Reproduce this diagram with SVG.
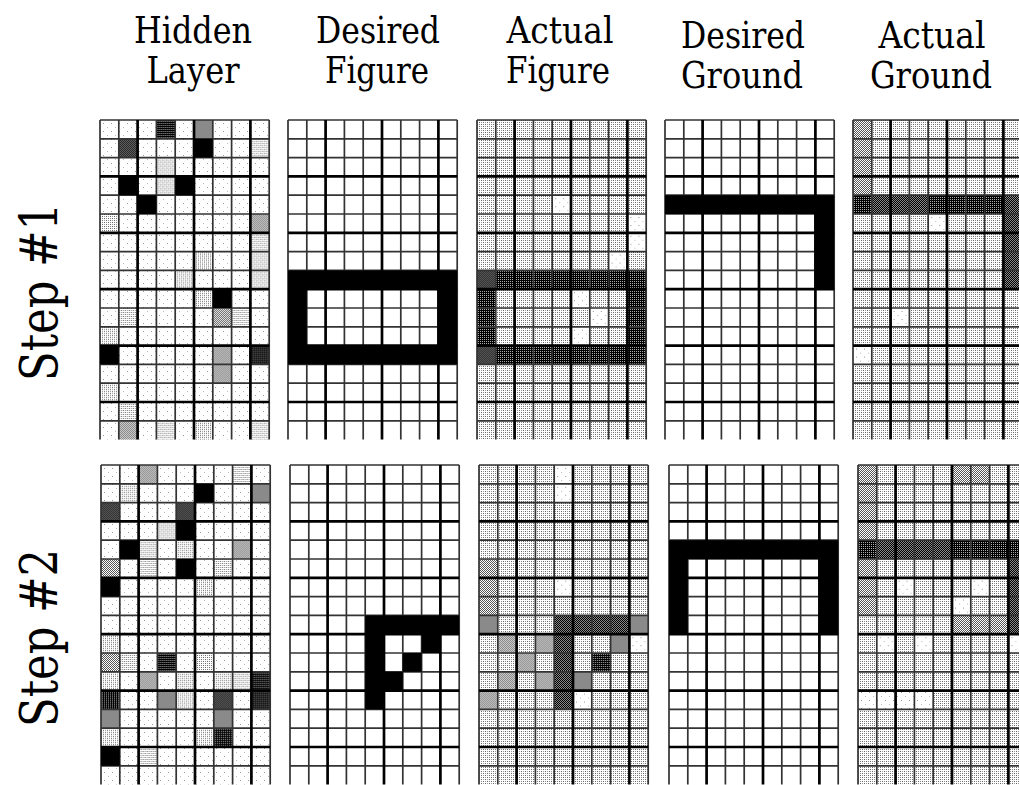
<svg xmlns="http://www.w3.org/2000/svg" width="1019" height="785" viewBox="0 0 1019 785">
<style>
.f{fill:url(#pf)} .l{fill:url(#pl)} .m{fill:url(#pm)} .d{fill:url(#pd)} .dc{fill:url(#pdc)} .g{fill:#8a8a8a} .k{fill:#000} .w{fill:#fff}
.thin{fill:none;stroke:#333;stroke-width:1.7}
.thick{fill:none;stroke:#000;stroke-width:2.7}
</style>
<defs>
<pattern id="pf" width="8" height="8" patternUnits="userSpaceOnUse"><rect width="8" height="8" fill="#fff"/><rect x="3" y="3" width="1" height="1" fill="#999"/><rect x="7" y="7" width="1" height="1" fill="#bbb"/></pattern>
<pattern id="pl" width="4" height="4" patternUnits="userSpaceOnUse"><rect width="4" height="4" fill="#fff"/><rect x="0" y="0" width="1" height="1" fill="#666"/><rect x="2" y="2" width="1" height="1" fill="#666"/><rect x="2" y="0" width="1" height="1" fill="#888"/><rect x="0" y="2" width="1" height="1" fill="#999"/></pattern>
<pattern id="pm" width="2" height="2" patternUnits="userSpaceOnUse"><rect width="2" height="2" fill="#fff"/><rect width="1" height="1" fill="#555"/><rect x="1" y="1" width="1" height="1" fill="#555"/></pattern>
<pattern id="pd" width="2" height="2" patternUnits="userSpaceOnUse"><rect width="2" height="2" fill="#000"/><rect x="1" y="1" width="1" height="1" fill="#aaa"/></pattern>
<pattern id="pdc" width="2" height="2" patternUnits="userSpaceOnUse"><rect width="2" height="2" fill="#888"/><rect width="1" height="1" fill="#000"/><rect x="1" y="1" width="1" height="1" fill="#000"/></pattern>
<rect id="c" width="18.8" height="18.8"/>
<g id="grid">
<path class="thin" d="M0 0H169.2M0 18.8H169.2M0 37.6H169.2M0 75.2H169.2M0 94H169.2M0 131.6H169.2M0 150.4H169.2M0 188H169.2M0 206.8H169.2M0 244.4H169.2M0 263.2H169.2M0 300.8H169.2M0 0V319.6M18.8 0V319.6M56.4 0V319.6M75.2 0V319.6M112.8 0V319.6M131.6 0V319.6M169.2 0V319.6"/>
<path class="thick" d="M0 56.4H169.2M0 112.8H169.2M0 169.2H169.2M0 225.6H169.2M0 282H169.2M37.6 0V319.6M94 0V319.6M150.4 0V319.6"/>
</g>
</defs>
<rect width="1019" height="785" fill="#fff"/>

<g id="headers" font-family="DejaVu Serif, Noto Serif, serif" font-size="37" text-anchor="middle" fill="#000" lengthAdjust="spacingAndGlyphs">
<text x="193" y="43" textLength="118" lengthAdjust="spacingAndGlyphs">Hidden</text><text x="193" y="83" textLength="93" lengthAdjust="spacingAndGlyphs">Layer</text>
<text x="378" y="43" textLength="124" lengthAdjust="spacingAndGlyphs">Desired</text><text x="377" y="83" textLength="104" lengthAdjust="spacingAndGlyphs">Figure</text>
<text x="560" y="43" textLength="107" lengthAdjust="spacingAndGlyphs">Actual</text><text x="558" y="83" textLength="104" lengthAdjust="spacingAndGlyphs">Figure</text>
<text x="743" y="48" textLength="124" lengthAdjust="spacingAndGlyphs">Desired</text><text x="742" y="88" textLength="122" lengthAdjust="spacingAndGlyphs">Ground</text>
<text x="932" y="48" textLength="107" lengthAdjust="spacingAndGlyphs">Actual</text><text x="931" y="88" textLength="122" lengthAdjust="spacingAndGlyphs">Ground</text>
</g>
<g id="step-labels" font-family="DejaVu Serif, Noto Serif, serif" font-size="53" text-anchor="middle" fill="#000">
<text transform="translate(57,292) rotate(-90)" textLength="178" lengthAdjust="spacingAndGlyphs">Step #1</text>
<text transform="translate(57,638) rotate(-90)" textLength="178" lengthAdjust="spacingAndGlyphs">Step #2</text>
</g>

<!-- STEP 1 -->
<g id="s1-hidden" transform="translate(100,120)">
<rect width="169.2" height="319.6" class="f"/>
<use href="#c" x="56.4" y="0" class="d"/><use href="#c" x="94" y="0" class="g"/>
<use href="#c" x="18.8" y="18.8" class="dc"/><use href="#c" x="150.4" y="18.8" class="l"/>
<use href="#c" x="56.4" y="37.6" class="l"/><use href="#c" x="56.4" y="56.4" class="l"/>
<use href="#c" x="0" y="94" class="l"/><use href="#c" x="150.4" y="94" class="m"/>
<use href="#c" x="150.4" y="112.8" class="l"/><use href="#c" x="94" y="131.6" class="l"/><use href="#c" x="150.4" y="131.6" class="l"/>
<use href="#c" x="75.2" y="150.4" class="l"/><use href="#c" x="150.4" y="150.4" class="l"/>
<use href="#c" x="94" y="169.2" class="l"/>
<use href="#c" x="18.8" y="188" class="l"/><use href="#c" x="112.8" y="188" class="m"/><use href="#c" x="131.6" y="188" class="l"/>
<use href="#c" x="0" y="206.8" class="l"/>
<use href="#c" x="112.8" y="225.6" class="m"/><use href="#c" x="150.4" y="225.6" class="d"/>
<use href="#c" x="112.8" y="244.4" class="m"/>
<use href="#c" x="0" y="263.2" class="l"/><use href="#c" x="18.8" y="282" class="l"/>
<use href="#c" x="18.8" y="300.8" class="m"/><use href="#c" x="56.4" y="300.8" class="l"/><use href="#c" x="94" y="300.8" class="l"/><use href="#c" x="150.4" y="300.8" class="l"/>
<use href="#grid"/>
<use href="#c" x="94" y="18.8" class="k"/><use href="#c" x="18.8" y="56.4" class="k"/><use href="#c" x="75.2" y="56.4" class="k"/>
<use href="#c" x="37.6" y="75.2" class="k"/><use href="#c" x="112.8" y="169.2" class="k"/><use href="#c" x="0" y="225.6" class="k"/>
</g>

<g id="s1-desired-figure" transform="translate(288,120)">
<rect width="169.2" height="319.6" class="w"/>
<use href="#grid"/>
<rect x="0" y="150.4" width="169.2" height="18.8" class="k"/>
<rect x="0" y="225.6" width="169.2" height="18.8" class="k"/>
<rect x="0" y="169.2" width="18.8" height="56.4" class="k"/>
<rect x="150.4" y="169.2" width="18.8" height="56.4" class="k"/>
</g>

<g id="s1-actual-figure" transform="translate(477,120)">
<rect width="169.2" height="319.6" class="l"/>
<use href="#c" x="75.2" y="75.2" class="f"/><use href="#c" x="131.6" y="131.6" class="f"/><use href="#c" x="94" y="169.2" class="f"/>
<use href="#c" x="112.8" y="188" class="f"/><use href="#c" x="94" y="206.8" class="f"/><use href="#c" x="150.4" y="94" class="f"/><use href="#c" x="150.4" y="112.8" class="f"/>
<rect x="0" y="150.4" width="169.2" height="18.8" class="d"/>
<rect x="0" y="225.6" width="169.2" height="18.8" class="d"/>
<rect x="0" y="169.2" width="18.8" height="56.4" class="d"/>
<rect x="150.4" y="169.2" width="18.8" height="56.4" class="d"/>
<use href="#c" x="0" y="150.4" class="dc"/><use href="#c" x="0" y="225.6" class="dc"/>
<use href="#grid"/>
</g>

<g id="s1-desired-ground" transform="translate(665,120)">
<rect width="169.2" height="319.6" class="w"/>
<use href="#grid"/>
<rect x="0" y="75.2" width="169.2" height="18.8" class="k"/>
<rect x="150.4" y="94" width="18.8" height="75.2" class="k"/>
</g>

<g id="s1-actual-ground" transform="translate(853,120)">
<rect width="169.2" height="319.6" class="l"/>
<rect x="0" y="0" width="18.8" height="75.2" class="m"/>
<rect x="0" y="75.2" width="169.2" height="18.8" class="d"/>
<rect x="18.8" y="75.2" width="56.4" height="18.8" class="dc"/>
<rect x="150.4" y="75.2" width="18.8" height="94" class="dc"/>
<use href="#c" x="75.2" y="94" class="f"/><use href="#c" x="37.6" y="188" class="f"/><use href="#c" x="0" y="225.6" class="f"/>
<use href="#grid"/>
</g>

<!-- STEP 2 -->
<g id="s2-hidden" transform="translate(101,465)">
<rect width="169.2" height="319.6" class="f"/>
<use href="#c" x="37.6" y="0" class="m"/><use href="#c" x="131.6" y="0" class="l"/>
<use href="#c" x="18.8" y="18.8" class="l"/><use href="#c" x="150.4" y="18.8" class="g"/>
<use href="#c" x="0" y="37.6" class="dc"/><use href="#c" x="75.2" y="37.6" class="dc"/>
<use href="#c" x="56.4" y="56.4" class="l"/>
<use href="#c" x="37.6" y="75.2" class="l"/><use href="#c" x="75.2" y="75.2" class="l"/><use href="#c" x="131.6" y="75.2" class="m"/>
<use href="#c" x="0" y="94" class="m"/><use href="#c" x="37.6" y="94" class="l"/><use href="#c" x="112.8" y="94" class="l"/>
<use href="#c" x="94" y="112.8" class="l"/>
<use href="#c" x="0" y="169.2" class="l"/>
<use href="#c" x="0" y="188" class="m"/><use href="#c" x="18.8" y="188" class="l"/><use href="#c" x="56.4" y="188" class="d"/><use href="#c" x="94" y="188" class="l"/>
<use href="#c" x="0" y="206.8" class="l"/><use href="#c" x="37.6" y="206.8" class="m"/><use href="#c" x="75.2" y="206.8" class="l"/><use href="#c" x="112.8" y="206.8" class="l"/><use href="#c" x="131.6" y="206.8" class="l"/><use href="#c" x="150.4" y="206.8" class="d"/>
<use href="#c" x="0" y="225.6" class="d"/><use href="#c" x="56.4" y="225.6" class="g"/><use href="#c" x="75.2" y="225.6" class="l"/><use href="#c" x="112.8" y="225.6" class="dc"/><use href="#c" x="150.4" y="225.6" class="d"/>
<use href="#c" x="0" y="244.4" class="g"/><use href="#c" x="112.8" y="244.4" class="g"/>
<use href="#c" x="0" y="263.2" class="l"/><use href="#c" x="94" y="263.2" class="l"/><use href="#c" x="112.8" y="263.2" class="d"/>
<use href="#c" x="37.6" y="282" class="l"/>
<use href="#grid"/>
<use href="#c" x="94" y="18.8" class="k"/><use href="#c" x="75.2" y="56.4" class="k"/><use href="#c" x="18.8" y="75.2" class="k"/>
<use href="#c" x="75.2" y="94" class="k"/><use href="#c" x="0" y="112.8" class="k"/><use href="#c" x="0" y="282" class="k"/>
</g>

<g id="s2-desired-figure" transform="translate(290,465)">
<rect width="169.2" height="319.6" class="w"/>
<use href="#grid"/>
<rect x="75.2" y="150.4" width="94" height="18.8" class="k"/>
<rect x="75.2" y="169.2" width="18.8" height="75.2" class="k"/>
<use href="#c" x="131.6" y="169.2" class="k"/>
<use href="#c" x="112.8" y="188" class="k"/>
<use href="#c" x="94" y="206.8" class="k"/>
</g>

<g id="s2-actual-figure" transform="translate(479,465)">
<rect width="169.2" height="319.6" class="l"/>
<use href="#c" x="75.2" y="0" class="f"/><use href="#c" x="75.2" y="18.8" class="f"/><use href="#c" x="75.2" y="112.8" class="f"/><use href="#c" x="150.4" y="169.2" class="f"/><use href="#c" x="94" y="225.6" class="f"/>
<rect x="0" y="94" width="18.8" height="56.4" class="m"/>
<use href="#c" x="18.8" y="169.2" class="m"/><use href="#c" x="56.4" y="169.2" class="m"/><use href="#c" x="37.6" y="188" class="m"/>
<use href="#c" x="18.8" y="206.8" class="m"/><use href="#c" x="56.4" y="206.8" class="m"/><use href="#c" x="0" y="225.6" class="m"/>
<use href="#c" x="0" y="150.4" class="g"/><use href="#c" x="131.6" y="169.2" class="g"/><use href="#c" x="94" y="206.8" class="g"/><use href="#c" x="150.4" y="150.4" class="g"/>
<rect x="75.2" y="150.4" width="75.2" height="18.8" class="dc"/>
<rect x="75.2" y="169.2" width="18.8" height="75.2" class="dc"/>
<use href="#c" x="112.8" y="188" class="d"/>
<use href="#grid"/>
</g>

<g id="s2-desired-ground" transform="translate(669,465)">
<rect width="169.2" height="319.6" class="w"/>
<use href="#grid"/>
<rect x="0" y="75.2" width="169.2" height="18.8" class="k"/>
<rect x="0" y="94" width="18.8" height="75.2" class="k"/>
<rect x="150.4" y="94" width="18.8" height="75.2" class="k"/>
</g>

<g id="s2-actual-ground" transform="translate(858,465)">
<rect width="169.2" height="319.6" class="l"/>
<rect x="0" y="0" width="18.8" height="75.2" class="m"/>
<rect x="94" y="0" width="37.6" height="18.8" class="m"/>
<rect x="0" y="94" width="18.8" height="56.4" class="m"/>
<rect x="94" y="150.4" width="56.4" height="18.8" class="m"/>
<rect x="0" y="75.2" width="169.2" height="18.8" class="d"/>
<rect x="18.8" y="75.2" width="75.2" height="18.8" class="dc"/>
<rect x="150.4" y="94" width="18.8" height="75.2" class="dc"/>
<use href="#c" x="37.6" y="112.8" class="f"/><use href="#c" x="112.8" y="112.8" class="f"/><use href="#c" x="94" y="131.6" class="f"/>
<use href="#c" x="18.8" y="169.2" class="f"/><use href="#c" x="56.4" y="169.2" class="f"/><use href="#c" x="150.4" y="169.2" class="f"/>
<rect x="0" y="225.6" width="75.2" height="18.8" class="f"/>
<use href="#grid"/>
</g>
</svg>
